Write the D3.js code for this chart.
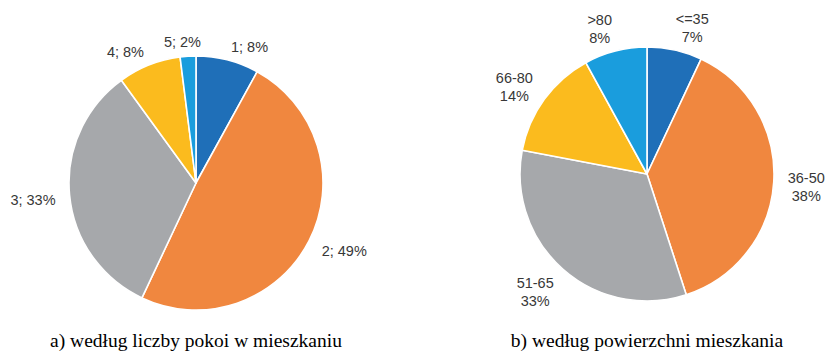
<!DOCTYPE html>
<html>
<head>
<meta charset="utf-8">
<script src="https://cdn.jsdelivr.net/npm/d3@7"></script>
<style>
  html, body { margin: 0; padding: 0; background: #ffffff; }
  svg { display: block; }
</style>
</head>
<body>
<svg id="chart" width="828" height="358"></svg>
<script>
// Struktura mieszkań: a) liczba pokoi, b) powierzchnia (m²)
const roomCategories = ["1", "2", "3", "4", "5"];
const roomShares = [8, 49, 33, 8, 2];

const areaCategories = ["<=35", "36-50", "51-65", "66-80", ">80"];
const areaShares = [7, 38, 33, 14, 8];

const sliceColors = ["#1f6fb8", "#f0873f", "#a6a8ab", "#fbbb1e", "#1a9ddd"];

const captions = ["a) według liczby pokoi w mieszkaniu", "b) według powierzchni mieszkania"];

const svg = d3.select("#chart");
const radius = 127;

const panels = [
  { cats: roomCategories, vals: roomShares, cx: 196, cy: 183, caption: captions[0],
    label: (c, v) => [`${c}; ${v}%`] },
  { cats: areaCategories, vals: areaShares, cx: 647, cy: 174, caption: captions[1],
    label: (c, v) => [c, `${v}%`] }
];

const pie = d3.pie().sort(null).value(d => d.value);
const arc = d3.arc().innerRadius(0).outerRadius(radius);
const color = d3.scaleOrdinal().domain(d3.range(5)).range(sliceColors);

panels.forEach(p => {
  const data = p.cats.map((c, i) => ({ cat: c, value: p.vals[i], idx: i }));
  const arcs = pie(data);
  const g = svg.append("g").attr("transform", `translate(${p.cx},${p.cy})`);

  g.selectAll("path.slice")
    .data(arcs)
    .join("path")
    .attr("class", "slice")
    .attr("d", arc)
    .attr("fill", d => color(d.data.idx))
    .attr("stroke", "#ffffff")
    .attr("stroke-width", 1.6)
    .attr("stroke-linejoin", "round");

  // labels outside the slice ends, nudged away from the pie by their own size
  const lineH = 18;
  arcs.forEach(a => {
    const mid = (a.startAngle + a.endAngle) / 2;
    const sx = Math.sin(mid), cy = -Math.cos(mid);
    const lines = p.label(a.data.cat, a.data.value);
    const t = g.append("text")
      .attr("font-family", "'Liberation Sans', Arial, sans-serif")
      .attr("font-size", 14.5)
      .attr("fill", "#383838")
      .attr("text-anchor", "middle");
    lines.forEach((s, i) => {
      t.append("tspan").attr("x", 0).attr("dy", i === 0 ? 0 : lineH).text(s);
    });
    const bb = t.node().getBBox();
    const w = bb.width, h = bb.height;
    const px = sx * (radius + 14), py = cy * (radius + 9);
    const kx = Math.max(-1, Math.min(1, sx * 4));
    const bx = px + kx * w / 2;
    const by = py + cy * h / 2;
    // shift text so the box centre lands on (bx, by)
    const ox = bx - (bb.x + w / 2);
    const oy = by - (bb.y + h / 2) + 3;
    t.attr("transform", `translate(${ox},${oy})`);
  });

  svg.append("text")
    .attr("x", p.cx)
    .attr("y", 347)
    .attr("text-anchor", "middle")
    .attr("font-family", "'Liberation Serif', 'Times New Roman', serif")
    .attr("font-size", 19.5)
    .attr("fill", "#000000")
    .text(p.caption);
});
</script>
</body>
</html>
